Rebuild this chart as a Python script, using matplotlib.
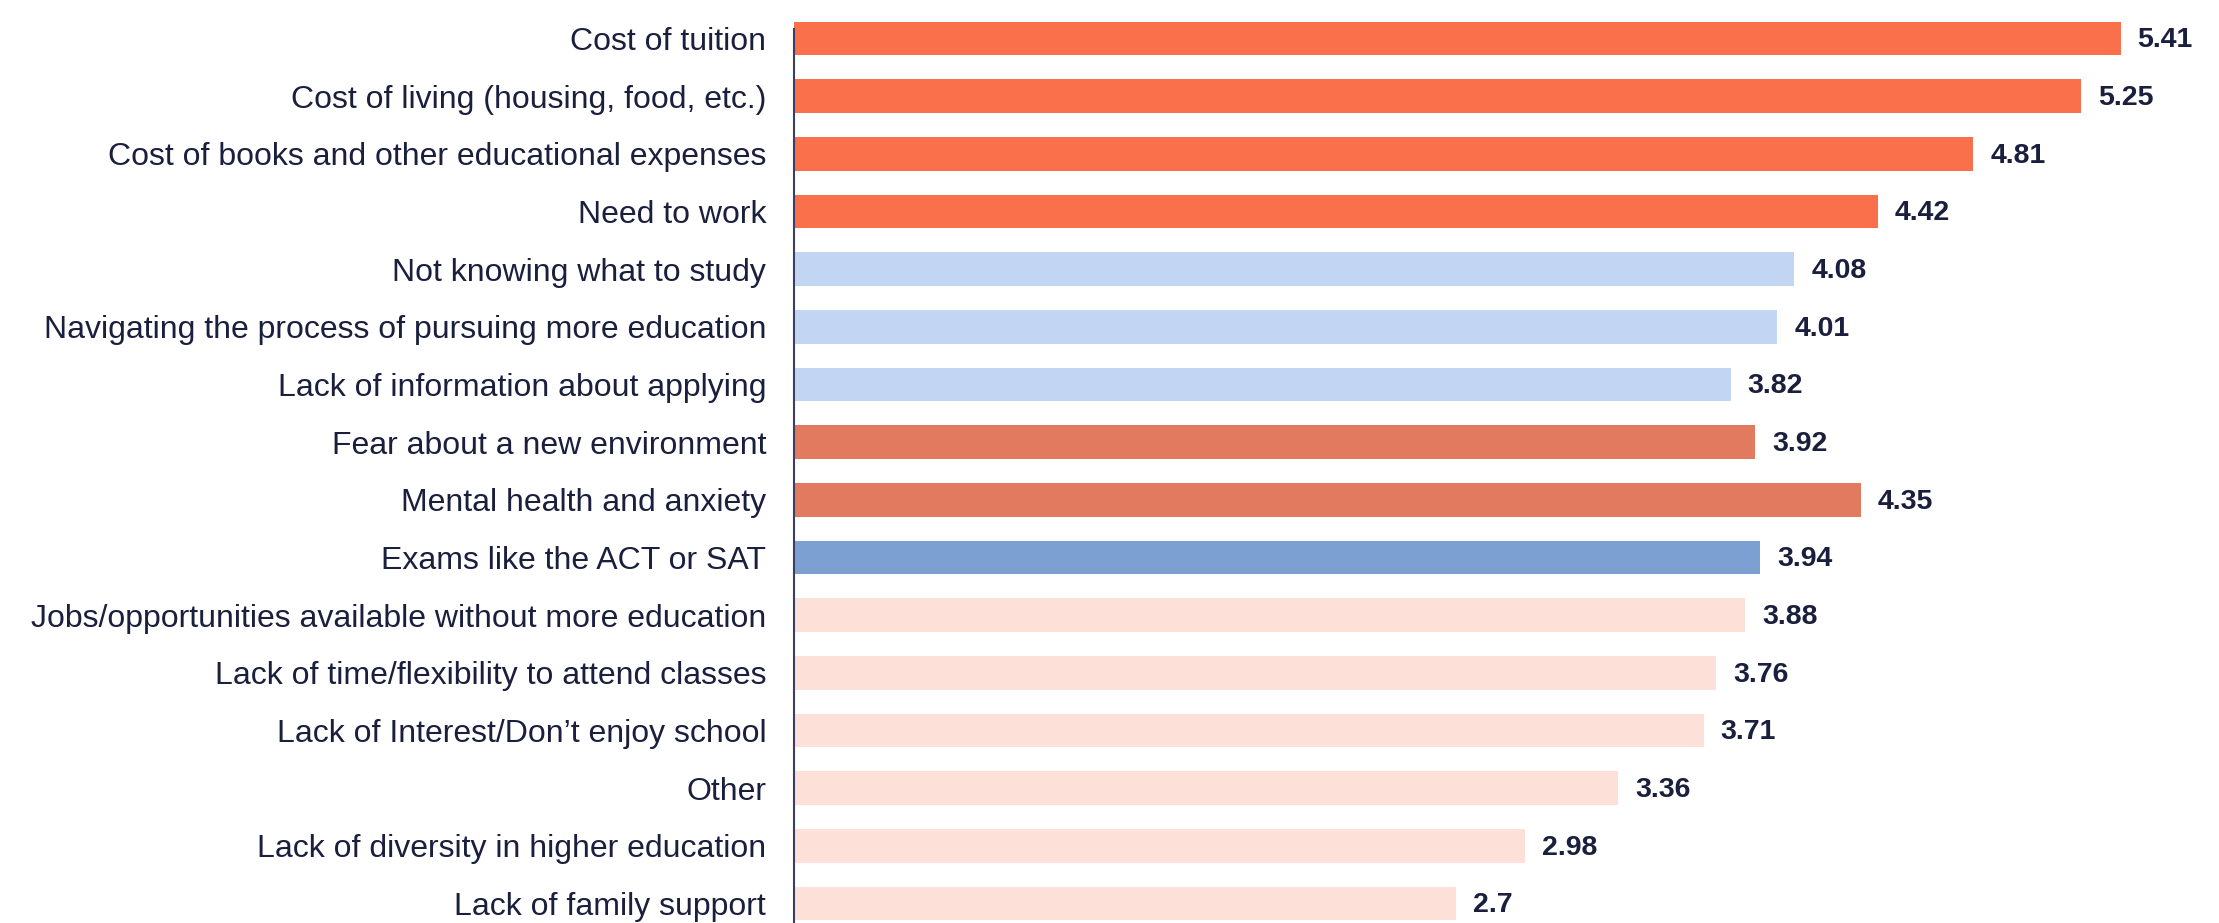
import matplotlib
matplotlib.use("Agg")
import matplotlib.pyplot as plt

categories = [
    "Cost of tuition",
    "Cost of living (housing, food, etc.)",
    "Cost of books and other educational expenses",
    "Need to work",
    "Not knowing what to study",
    "Navigating the process of pursuing more education",
    "Lack of information about applying",
    "Fear about a new environment",
    "Mental health and anxiety",
    "Exams like the ACT or SAT",
    "Jobs/opportunities available without more education",
    "Lack of time/flexibility to attend classes",
    "Lack of Interest/Don\u2019t enjoy school",
    "Other",
    "Lack of diversity in higher education",
    "Lack of family support",
]
values = [5.41, 5.25, 4.81, 4.42, 4.08, 4.01, 3.82, 3.92, 4.35, 3.94,
          3.88, 3.76, 3.71, 3.36, 2.98, 2.7]
value_labels = ["5.41", "5.25", "4.81", "4.42", "4.08", "4.01", "3.82", "3.92",
                "4.35", "3.94", "3.88", "3.76", "3.71", "3.36", "2.98", "2.7"]
groups = ["cost", "cost", "cost", "cost", "info", "info", "info", "emot", "emot",
          "exam", "other", "other", "other", "other", "other", "other"]

palette = {"cost": "#F9704A", "info": "#C2D6F3", "emot": "#E27A60",
           "exam": "#7DA0D2", "other": "#FDE0D8"}
text_color = "#1A1F3D"

plt.rcParams["font.family"] = ["Liberation Sans", "DejaVu Sans"]

W, H = 2219, 923
fig = plt.figure(figsize=(W / 100, H / 100), dpi=100)
left = 794 / W
ax = fig.add_axes([left, 0, 1 - left, 1])

ypos = list(range(len(categories)))
ax.barh(ypos, values, height=0.58, color=[palette[g] for g in groups])

spacing = 57.67
top = -38.5 / spacing
bottom = (len(categories) - 1) + (H - 903.5) / spacing
ax.set_ylim(bottom, top)
xmax = (W - 794) / 245.2
ax.set_xlim(0, xmax)

for y, v, lab in zip(ypos, values, value_labels):
    ax.text(v + 17 / 245.2, y + 0.03, lab, va="center", ha="left", fontsize=20.5,
            fontweight="bold", color=text_color)

ax.set_yticks(ypos)
ax.set_yticklabels(categories, fontsize=23, color=text_color)
ax.tick_params(axis="y", length=0, pad=20)
ax.set_xticks([])
for s in ["top", "right", "bottom"]:
    ax.spines[s].set_visible(False)
ax.spines["left"].set_color("#3A3F63")
ax.spines["left"].set_linewidth(1.5)
ax.spines["left"].set_bounds(bottom, top + (38.5 - 9) / spacing)

fig.savefig("out.png", dpi=100)
